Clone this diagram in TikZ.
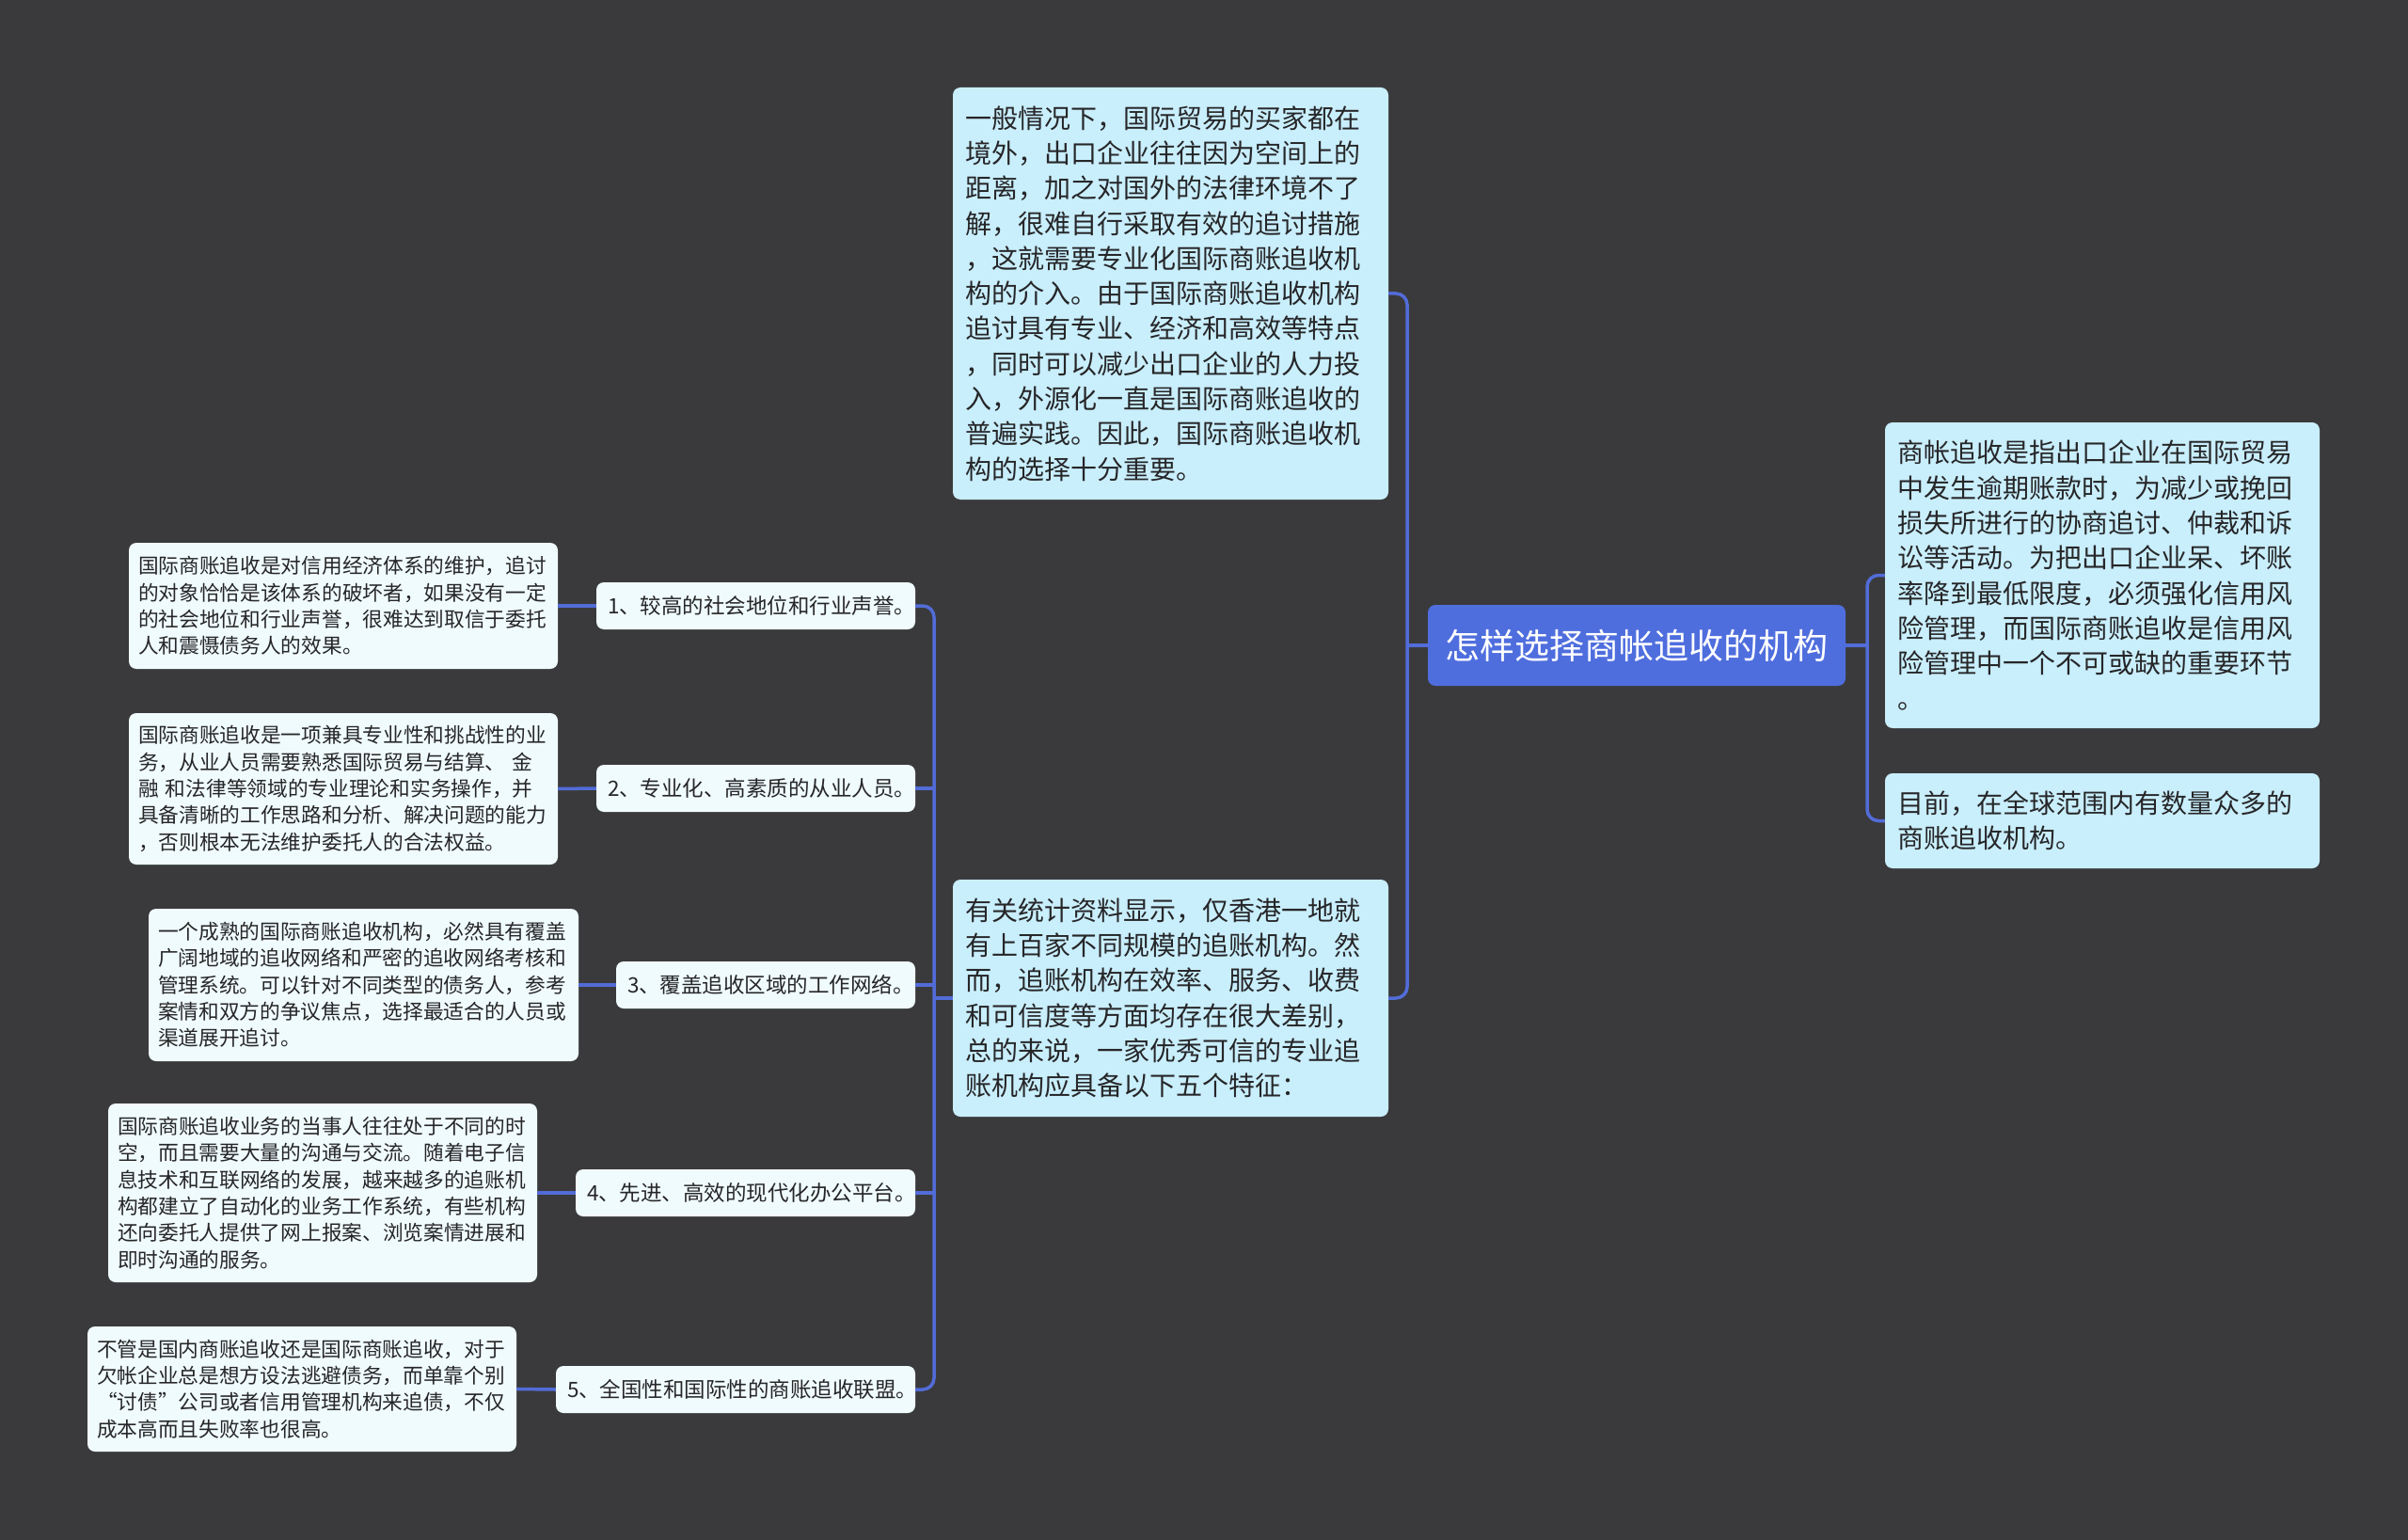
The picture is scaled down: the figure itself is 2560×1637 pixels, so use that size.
\documentclass[tikz,border=0pt]{standalone}
\usepackage{fontspec}
\setmainfont{Noto Sans CJK SC}
\definecolor{bgc}{RGB}{58,58,60}
\definecolor{rootc}{RGB}{79,110,222}
\definecolor{connc}{RGB}{82,108,216}
\definecolor{lb}{RGB}{201,238,252}
\definecolor{pale}{RGB}{240,251,253}
\definecolor{txt}{RGB}{38,38,40}
\tikzset{
  box/.style={rectangle, rounded corners=8pt, inner ysep=0pt, align=left, text=txt},
  bluebox/.style={box, fill=lb, font=\fontsize{28}{37.3}\selectfont, inner xsep=13pt},
  palebox/.style={box, fill=pale, font=\fontsize{21.7}{28.3}\selectfont, inner xsep=10pt},
  lvlbox/.style={box, fill=pale, font=\fontsize{22.5}{28}\selectfont, inner xsep=12pt, minimum height=50pt},
  rootbox/.style={box, fill=rootc, text=white, align=center, font=\fontsize{37}{44}\selectfont, minimum width=444pt, minimum height=86pt},
  conn/.style={draw=connc, line width=3.5pt, rounded corners=12pt},
}
\begin{document}
\begin{tikzpicture}[x=1pt,y=-1pt]
\fill[bgc] (0,0) rectangle (2560,1637);
\useasboundingbox (0,0) rectangle (2560,1637);

% root
\node[rootbox] (root) at (1740,686) {怎样选择商帐追收的机构};

% middle column
\node[bluebox, text width=437pt, minimum height=438pt] (T1) at (1244.5,312) {一般情况下，国际贸易的买家都在\\境外，出口企业往往因为空间上的\\距离，加之对国外的法律环境不了\\解，很难自行采取有效的追讨措施\\，这就需要专业化国际商账追收机\\构的介入。由于国际商账追收机构\\追讨具有专业、经济和高效等特点\\，同时可以减少出口企业的人力投\\入，外源化一直是国际商账追收的\\普遍实践。因此，国际商账追收机\\构的选择十分重要。};
\node[bluebox, text width=437pt, minimum height=252pt] (T2) at (1244.5,1061) {有关统计资料显示，仅香港一地就\\有上百家不同规模的追账机构。然\\而，追账机构在效率、服务、收费\\和可信度等方面均存在很大差别，\\总的来说，一家优秀可信的专业追\\账机构应具备以下五个特征：};

% right column
\node[bluebox, text width=436pt, minimum height=325pt] (R1) at (2235,611.5) {商帐追收是指出口企业在国际贸易\\中发生逾期账款时，为减少或挽回\\损失所进行的协商追讨、仲裁和诉\\讼等活动。为把出口企业呆、坏账\\率降到最低限度，必须强化信用风\\险管理，而国际商账追收是信用风\\险管理中一个不可或缺的重要环节\\。};
\node[bluebox, text width=436pt, minimum height=101pt] (R2) at (2235,872.5) {目前，在全球范围内有数量众多的\\商账追收机构。};

% level boxes
\node[lvlbox, text width=315pt] (L1) at (803.5,644) {1、较高的社会地位和行业声誉。};
\node[lvlbox, text width=315pt] (L2) at (803.5,838) {2、专业化、高素质的从业人员。};
\node[lvlbox, text width=294pt] (L3) at (814,1047) {3、覆盖追收区域的工作网络。};
\node[lvlbox, text width=337pt] (L4) at (792.5,1268) {4、先进、高效的现代化办公平台。};
\node[lvlbox, text width=358pt] (L5) at (782,1477) {5、全国性和国际性的商账追收联盟。};

% description boxes
\node[palebox, text width=436pt, minimum height=134pt] (D1) at (365,644) {国际商账追收是对信用经济体系的维护，追讨\\的对象恰恰是该体系的破坏者，如果没有一定\\的社会地位和行业声誉，很难达到取信于委托\\人和震慑债务人的效果。};
\node[palebox, text width=436pt, minimum height=161pt] (D2) at (365,838.5) {国际商账追收是一项兼具专业性和挑战性的业\\务，从业人员需要熟悉国际贸易与结算、 金\\融 和法律等领域的专业理论和实务操作，并\\具备清晰的工作思路和分析、解决问题的能力\\，否则根本无法维护委托人的合法权益。};
\node[palebox, text width=437pt, minimum height=162pt] (D3) at (386.5,1047) {一个成熟的国际商账追收机构，必然具有覆盖\\广阔地域的追收网络和严密的追收网络考核和\\管理系统。可以针对不同类型的债务人，参考\\案情和双方的争议焦点，选择最适合的人员或\\渠道展开追讨。};
\node[palebox, text width=436pt, minimum height=190pt] (D4) at (343,1268) {国际商账追收业务的当事人往往处于不同的时\\空，而且需要大量的沟通与交流。随着电子信\\息技术和互联网络的发展，越来越多的追账机\\构都建立了自动化的业务工作系统，有些机构\\还向委托人提供了网上报案、浏览案情进展和\\即时沟通的服务。};
\node[palebox, text width=436pt, minimum height=133pt] (D5) at (321,1476.5) {不管是国内商账追收还是国际商账追收，对于\\欠帐企业总是想方设法逃避债务，而单靠个别\\“讨债”公司或者信用管理机构来追债，不仅\\成本高而且失败率也很高。};

% junction coordinates
\coordinate (jL) at (1496,686);
\coordinate (jR) at (1985,686);
\coordinate (jM) at (993,1061);

% connectors root -> middle
\draw[conn] (T1.east) -- (T1.east -| jL) -- (T2.east -| jL) -- (T2.east);
\draw[conn] (root.west) -- (jL);
% root -> right
\draw[conn] (R1.west) -- (R1.west -| jR) -- (R2.west -| jR) -- (R2.west);
\draw[conn] (root.east) -- (jR);
% T2 -> levels
\draw[conn] (L1.east) -- (L1.east -| jM) -- (L5.east -| jM) -- (L5.east);
\draw[conn] (T2.west) -- (jM);
\draw[conn] (L2.east) -- (L2.east -| jM);
\draw[conn] (L3.east) -- (L3.east -| jM);
\draw[conn] (L4.east) -- (L4.east -| jM);
% levels -> descriptions
\draw[conn] (L1.west) -- (D1.east);
\draw[conn] (L2.west) -- (D2.east);
\draw[conn] (L3.west) -- (D3.east);
\draw[conn] (L4.west) -- (D4.east);
\draw[conn] (L5.west) -- (D5.east);
\end{tikzpicture}
\end{document}
